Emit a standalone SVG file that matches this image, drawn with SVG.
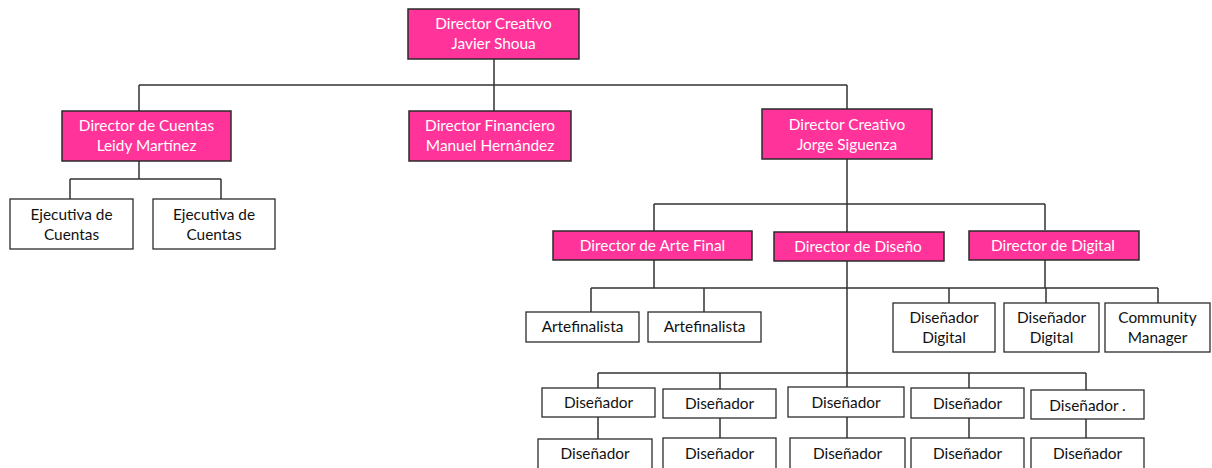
<svg xmlns="http://www.w3.org/2000/svg" width="1212" height="468" viewBox="0 0 1212 468">
<style>
.p{fill:#FF3399;stroke:#2b2b2b;stroke-width:1.5}
.w{fill:#ffffff;stroke:#2b2b2b;stroke-width:1.3}
.tp{fill:#ffffff;font-family:Lato,"Open Sans",sans-serif;font-size:15.4px;text-anchor:middle}
.tw{fill:#111111;font-family:Lato,"Open Sans",sans-serif;font-size:15.4px;text-anchor:middle}
.c{stroke:#333333;stroke-width:1.5;fill:none}
</style>
<rect width="1212" height="468" fill="#ffffff"/>
<g id="connectors" class="c">
<path d="M494 59V111M139 85H847M139 85V111M847 85V109"/>
<path d="M139 161V179M70 179H221M70 179V199M221 179V199"/>
<path d="M847 159V388M654 204H1045M654 204V231M1045 204V230"/>
<path d="M654 260V288M591 288H1158M591 288V312M704 288V312M949 288V303M1046 288V303M1158 288V303M1045 260V288"/>
<path d="M598 373H1086M598 373V388M720 373V389M969 373V388M1086 373V390"/>
<path d="M598 417V439M720 418V438M847 417V438M969 418V438M1086 419V438"/>
</g>
<g id="n-javier"><rect class="p" x="408" y="9" width="171" height="50"/><text class="tp" x="493.5" y="28.5">Director Creativo</text><text class="tp" x="493.5" y="48.5">Javier Shoua</text></g>
<g id="n-leidy"><rect class="p" x="62" y="111" width="169" height="50"/><text class="tp" x="146.5" y="130.5">Director de Cuentas</text><text class="tp" x="146.5" y="150.5">Leidy Martínez</text></g>
<g id="n-manuel"><rect class="p" x="409" y="111" width="162" height="50"/><text class="tp" x="490" y="130.5">Director Financiero</text><text class="tp" x="490" y="150.5">Manuel Hernández</text></g>
<g id="n-jorge"><rect class="p" x="762" y="109" width="170" height="50"/><text class="tp" x="847" y="129.5">Director Creativo</text><text class="tp" x="847" y="149.5">Jorge Siguenza</text></g>
<g id="n-ej1"><rect class="w" x="10" y="199" width="123" height="50"/><text class="tw" x="71.5" y="219.5">Ejecutiva de</text><text class="tw" x="71.5" y="239.5">Cuentas</text></g>
<g id="n-ej2"><rect class="w" x="153" y="199" width="122" height="50"/><text class="tw" x="214" y="219.5">Ejecutiva de</text><text class="tw" x="214" y="239.5">Cuentas</text></g>
<g id="n-arte"><rect class="p" x="553" y="231" width="199" height="29"/><text class="tp" x="652.5" y="250.5">Director de Arte Final</text></g>
<g id="n-diseno"><rect class="p" x="774" y="232" width="170" height="29"/><text class="tp" x="858" y="251.5">Director de Diseño</text></g>
<g id="n-digital"><rect class="p" x="969" y="231" width="170" height="29"/><text class="tp" x="1053" y="250.5">Director de Digital</text></g>
<g id="n-af1"><rect class="w" x="526" y="312" width="113" height="30"/><text class="tw" x="582.5" y="332">Artefinalista</text></g>
<g id="n-af2"><rect class="w" x="648" y="312" width="113" height="30"/><text class="tw" x="704.5" y="332">Artefinalista</text></g>
<g id="n-dd1"><rect class="w" x="893" y="303" width="102" height="49"/><text class="tw" x="944" y="322.5">Diseñador</text><text class="tw" x="944" y="342.5">Digital</text></g>
<g id="n-dd2"><rect class="w" x="1004" y="303" width="95" height="49"/><text class="tw" x="1051.5" y="322.5">Diseñador</text><text class="tw" x="1051.5" y="342.5">Digital</text></g>
<g id="n-cm"><rect class="w" x="1105" y="303" width="105" height="49"/><text class="tw" x="1157.5" y="322.5">Community</text><text class="tw" x="1157.5" y="342.5">Manager</text></g>
<g id="n-d1"><rect class="w" x="542" y="388" width="113" height="29"/><text class="tw" x="598.5" y="407.5">Diseñador</text></g>
<g id="n-d2"><rect class="w" x="663" y="389" width="113" height="29"/><text class="tw" x="719.5" y="408.5">Diseñador</text></g>
<g id="n-d3"><rect class="w" x="788" y="387" width="116" height="30"/><text class="tw" x="846" y="407.5">Diseñador</text></g>
<g id="n-d4"><rect class="w" x="911" y="388" width="113" height="30"/><text class="tw" x="967.5" y="408.5">Diseñador</text></g>
<g id="n-d5"><rect class="w" x="1031" y="390" width="113" height="29"/><text class="tw" x="1087.5" y="410.5">Diseñador .</text></g>
<g id="n-d6"><rect class="w" x="538" y="439" width="114" height="32"/><text class="tw" x="595" y="458.5">Diseñador</text></g>
<g id="n-d7"><rect class="w" x="663" y="438" width="113" height="33"/><text class="tw" x="719.5" y="458.5">Diseñador</text></g>
<g id="n-d8"><rect class="w" x="790" y="438" width="115" height="33"/><text class="tw" x="847.5" y="458.5">Diseñador</text></g>
<g id="n-d9"><rect class="w" x="911" y="438" width="113" height="33"/><text class="tw" x="967.5" y="458.5">Diseñador</text></g>
<g id="n-d10"><rect class="w" x="1031" y="438" width="113" height="33"/><text class="tw" x="1087.5" y="458.5">Diseñador</text></g>
</svg>
